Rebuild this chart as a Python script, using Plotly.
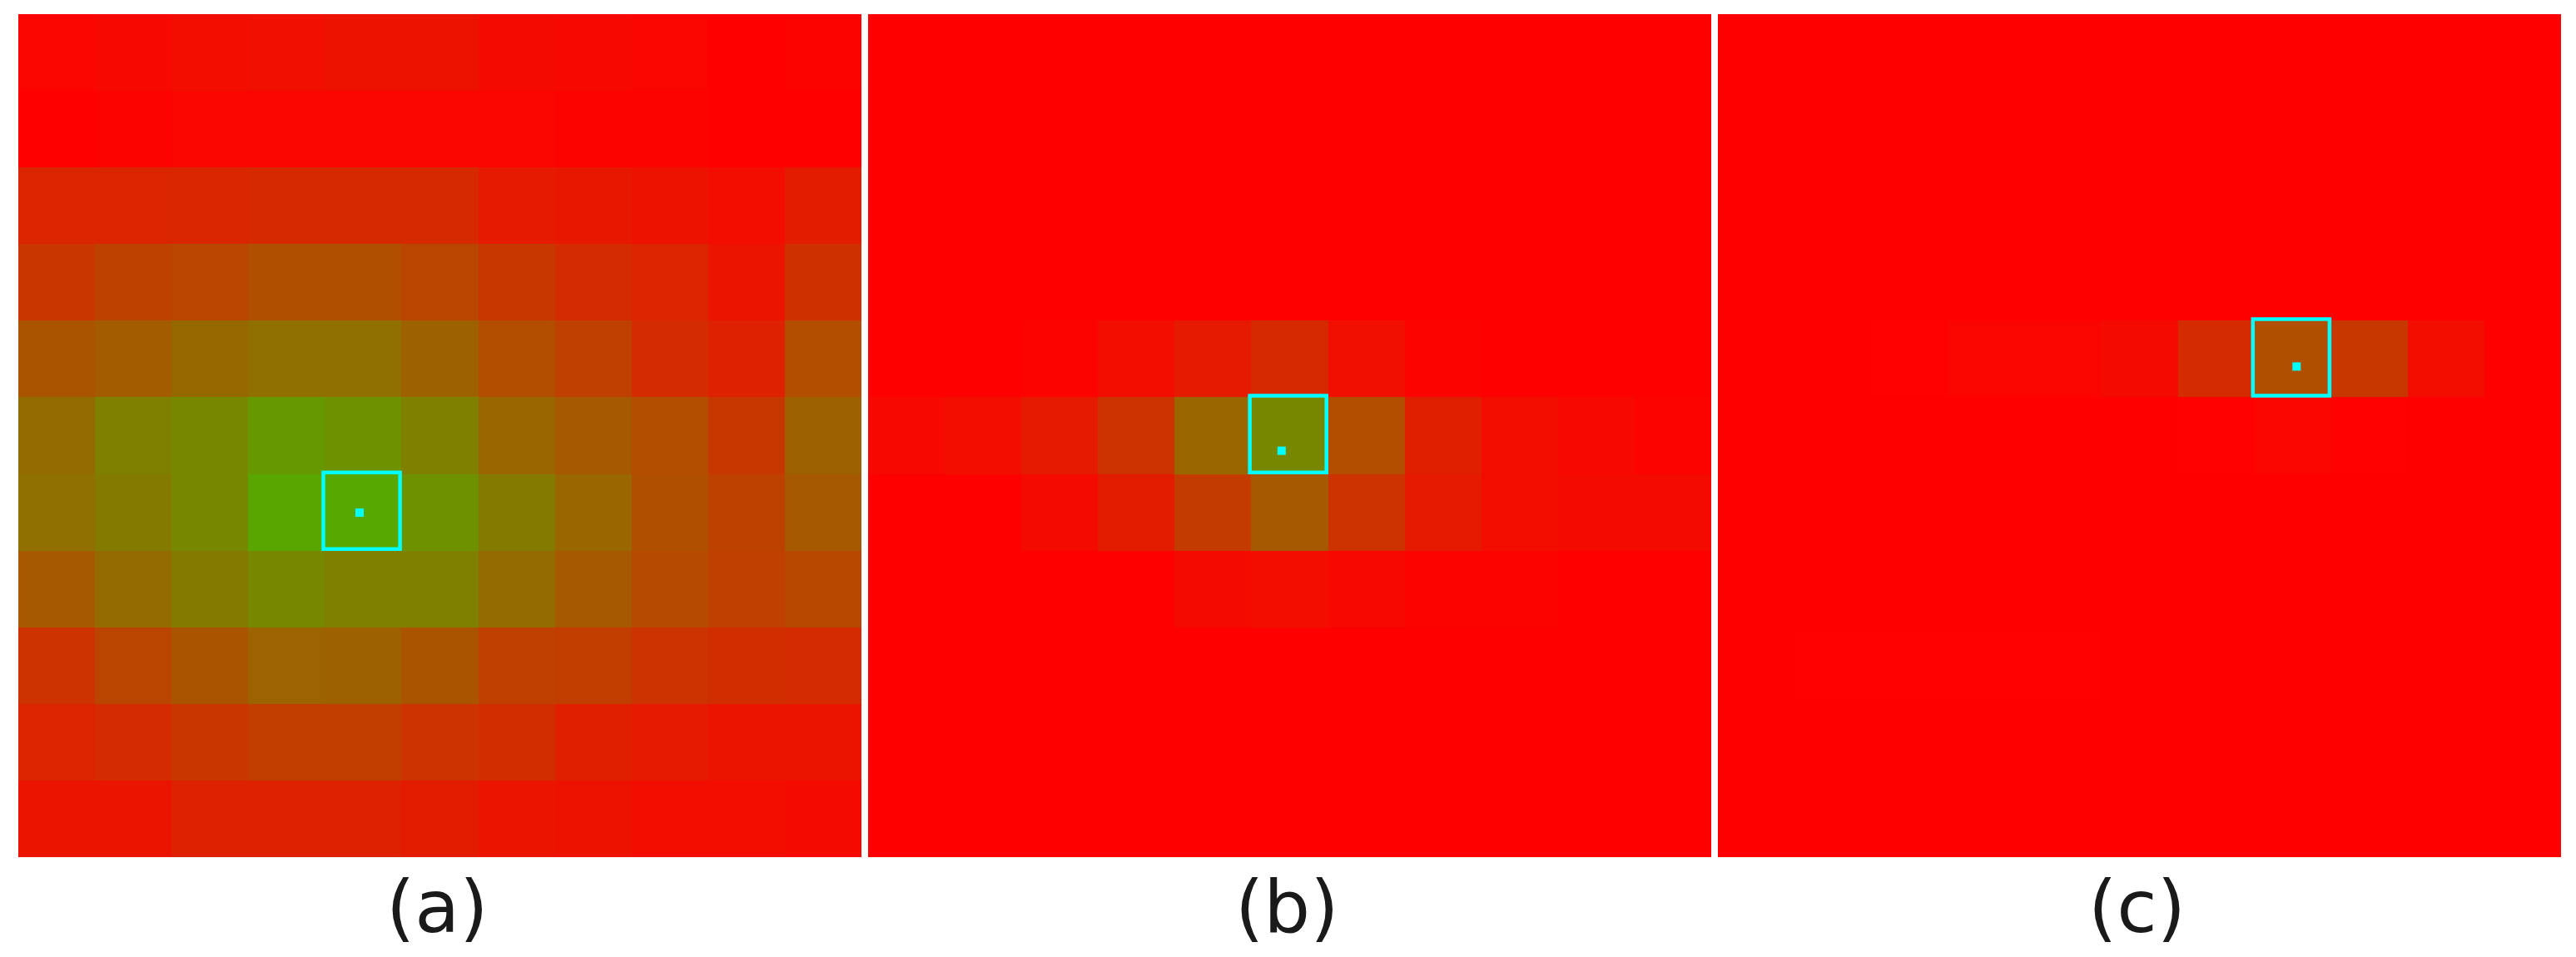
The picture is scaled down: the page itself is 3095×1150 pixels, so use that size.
from __future__ import annotations

import plotly.graph_objects as go

# green share of every cell (0 = pure red, 1 = pure green), rows top to bottom
panel_a = [
    [0.02, 0.03, 0.05, 0.06, 0.07, 0.07, 0.04, 0.03, 0.02, 0.00, 0.01],
    [0.00, 0.01, 0.02, 0.02, 0.02, 0.02, 0.02, 0.01, 0.01, 0.00, 0.00],
    [0.14, 0.14, 0.15, 0.16, 0.16, 0.16, 0.10, 0.09, 0.07, 0.05, 0.11],
    [0.21, 0.26, 0.27, 0.31, 0.31, 0.27, 0.22, 0.17, 0.14, 0.08, 0.19],
    [0.33, 0.36, 0.41, 0.44, 0.44, 0.38, 0.30, 0.25, 0.17, 0.13, 0.30],
    [0.42, 0.50, 0.53, 0.60, 0.57, 0.50, 0.40, 0.35, 0.30, 0.22, 0.38],
    [0.44, 0.48, 0.53, 0.65, 0.66, 0.57, 0.48, 0.40, 0.31, 0.26, 0.35],
    [0.35, 0.42, 0.48, 0.53, 0.50, 0.50, 0.42, 0.35, 0.29, 0.25, 0.28],
    [0.20, 0.27, 0.33, 0.39, 0.38, 0.33, 0.25, 0.24, 0.20, 0.18, 0.17],
    [0.14, 0.17, 0.21, 0.24, 0.24, 0.20, 0.18, 0.12, 0.10, 0.08, 0.08],
    [0.08, 0.08, 0.13, 0.13, 0.13, 0.11, 0.08, 0.07, 0.05, 0.05, 0.04],
]
panel_b = [
    [0.00] * 11,
    [0.00] * 11,
    [0.00] * 11,
    [0.00] * 11,
    [0.00, 0.00, 0.01, 0.05, 0.10, 0.16, 0.06, 0.01, 0.00, 0.00, 0.00],
    [0.03, 0.05, 0.10, 0.20, 0.40, 0.53, 0.30, 0.12, 0.05, 0.03, 0.01],
    [0.00, 0.00, 0.04, 0.11, 0.23, 0.35, 0.20, 0.10, 0.05, 0.04, 0.04],
    [0.00, 0.00, 0.00, 0.00, 0.04, 0.05, 0.03, 0.01, 0.01, 0.00, 0.00],
    [0.00] * 11,
    [0.00] * 11,
    [0.00] * 11,
]
panel_c = [
    [0.00] * 11,
    [0.00] * 11,
    [0.00] * 11,
    [0.00] * 11,
    [0.00, 0.00, 0.005, 0.02, 0.02, 0.04, 0.17, 0.31, 0.22, 0.05, 0.00],
    [0.00, 0.00, 0.00, 0.00, 0.00, 0.00, 0.005, 0.02, 0.005, 0.00, 0.00],
    [0.00] * 11,
    [0.00] * 11,
    [0.00, 0.003, 0.003, 0.003, 0.003, 0.00, 0.00, 0.00, 0.00, 0.00, 0.00],
    [0.00] * 11,
    [0.00] * 11,
]
panels = [panel_a, panel_b, panel_c]
labels = ["(a)", "(b)", "(c)"]

box_cols = [4, 5, 7]
box_rows = [6, 5, 4]
dot_x = [3.952, 4.895, 7.05]
dot_y = [6.005, 5.197, 4.098]

WIDTH = 3095
HEIGHT = 1150
LEFTS = [22, 1043, 2064]
SIDE = 1013
TOP = 17
BOX_SHIFT = -0.02

fig = go.Figure()
for i, z in enumerate(panels):
    suffix = "" if i == 0 else str(i + 1)
    fig.add_trace(
        go.Heatmap(
            z=z,
            xaxis=f"x{suffix}",
            yaxis=f"y{suffix}",
            zmin=0,
            zmax=1,
            colorscale=[[0, "#ff0000"], [1, "#00ff00"]],
            showscale=False,
            hoverinfo="skip",
        ),
    )
    fig.add_trace(
        go.Scatter(
            x=[dot_x[i]],
            y=[dot_y[i]],
            xaxis=f"x{suffix}",
            yaxis=f"y{suffix}",
            mode="markers",
            marker={"symbol": "square", "size": 10, "color": "#00ffff"},
            hoverinfo="skip",
            showlegend=False,
        ),
    )
    fig.add_shape(
        type="rect",
        xref=f"x{suffix}",
        yref=f"y{suffix}",
        x0=box_cols[i] - 0.5 + BOX_SHIFT,
        x1=box_cols[i] + 0.5 + BOX_SHIFT,
        y0=box_rows[i] - 0.5 + BOX_SHIFT,
        y1=box_rows[i] + 0.5 + BOX_SHIFT,
        line={"color": "#00ffff", "width": 4.5},
    )
    fig.add_annotation(
        text=labels[i],
        xref=f"x{suffix}",
        yref="paper",
        x=4.97,
        y=1 - 1089 / HEIGHT,
        yanchor="middle",
        showarrow=False,
        font={"family": "DejaVu Sans", "size": 88, "color": "#1a1a1a"},
    )
    axis_x = {
        "domain": [LEFTS[i] / WIDTH, (LEFTS[i] + SIDE) / WIDTH],
        "range": [-0.5, 10.5],
        "visible": False,
    }
    axis_y = {
        "domain": [1 - (TOP + SIDE) / HEIGHT, 1 - TOP / HEIGHT],
        "range": [10.5, -0.5],
        "visible": False,
    }
    fig.update_layout({f"xaxis{suffix}": axis_x, f"yaxis{suffix}": axis_y})

fig.update_layout(
    width=WIDTH,
    height=HEIGHT,
    margin={"l": 0, "r": 0, "t": 0, "b": 0, "pad": 0},
    paper_bgcolor="#ffffff",
    plot_bgcolor="#ffffff",
    showlegend=False,
)

fig.write_html(
    "out.html",
    config={"displayModeBar": False},
    post_script="document.body.style.margin='0';document.body.style.overflow='hidden';",
)
